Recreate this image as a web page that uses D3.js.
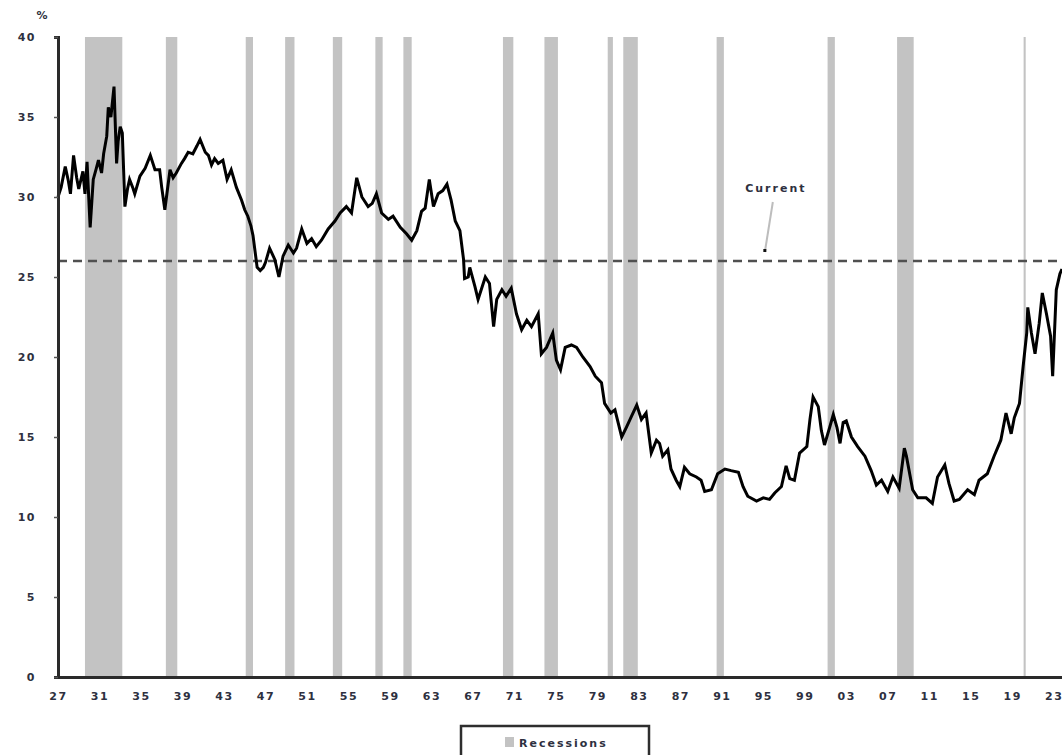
<!DOCTYPE html>
<html>
<head>
<meta charset="utf-8">
<script src="https://cdn.jsdelivr.net/npm/d3@7"></script>
<style>
  html, body { margin: 0; padding: 0; background: #fff; }
  svg { display: block; }
  text { font-family: "DejaVu Sans", Verdana, sans-serif; font-weight: bold; }
</style>
</head>
<body>
<svg id="chart" width="1062" height="755"></svg>
<script>
// ---- data ----
const years = [
  1927.0,1927.3,1927.7,1928.0,1928.2,1928.5,1928.8,1929.0,1929.4,1929.6,1929.8,
  1930.1,1930.4,1930.7,1930.9,1931.2,1931.4,1931.7,1931.85,1932.1,1932.4,1932.65,1932.8,
  1933.0,1933.2,1933.45,1933.7,1933.9,1934.2,1934.4,1934.9,1935.4,1935.9,1936.35,1936.8,
  1937.0,1937.3,1937.5,1937.8,1938.1,1938.4,1938.9,1939.2,1939.55,1940.0,1940.4,1940.7,
  1941.2,1941.5,1941.8,1942.1,1942.45,1942.9,1943.3,1943.7,1944.2,1944.7,1945.0,1945.3,
  1945.6,1945.8,1946.0,1946.2,1946.5,1946.8,1947.0,1947.4,1947.9,1948.3,1948.7,1949.2,
  1949.7,1950.0,1950.5,1951.0,1951.45,1951.9,1952.4,1953.05,1953.7,1954.2,1954.8,1955.3,
  1955.8,1956.3,1956.9,1957.3,1957.7,1958.2,1958.85,1959.3,1960.0,1960.6,1961.1,1961.6,
  1962.05,1962.4,1962.8,1963.2,1963.65,1964.1,1964.5,1964.9,1965.3,1965.75,1966.1,1966.2,
  1966.55,1966.7,1967.2,1967.5,1968.2,1968.6,1969.0,1969.3,1969.8,1970.2,1970.7,1971.2,
  1971.7,1972.2,1972.65,1973.3,1973.6,1974.1,1974.7,1975.05,1975.45,1975.9,1976.5,1977.0,
  1977.6,1978.3,1978.8,1979.4,1979.7,1980.3,1980.7,1981.35,1981.8,1982.3,1982.8,1983.25,
  1983.7,1984.2,1984.7,1985.0,1985.3,1985.8,1986.1,1986.6,1986.95,1987.4,1987.9,1988.55,
  1989.0,1989.35,1990.0,1990.6,1991.3,1991.9,1992.6,1993.05,1993.5,1994.35,1995.0,1995.6,
  1996.1,1996.75,1997.2,1997.55,1998.0,1998.5,1999.2,1999.5,1999.8,2000.3,2000.6,2000.9,
  2001.4,2001.75,2002.1,2002.4,2002.7,2003.0,2003.5,2004.1,2004.8,2005.4,2005.9,2006.4,
  2007.0,2007.5,2008.1,2008.6,2008.8,2009.4,2009.9,2010.7,2011.3,2011.8,2012.5,2012.9,
  2013.4,2013.9,2014.7,2015.35,2015.8,2016.6,2017.25,2017.9,2018.4,2018.9,2019.2,2019.7,
  2020.05,2020.4,2020.5,2020.85,2021.2,2021.6,2021.9,2022.3,2022.7,2022.9,2023.25,2023.6,2023.8
];
const values = [
  30.0,30.6,31.9,31.0,30.2,32.6,31.2,30.5,31.6,30.2,32.2,
  28.1,31.1,31.8,32.3,31.5,32.7,33.8,35.6,35.0,36.9,32.1,33.5,
  34.4,34.0,29.4,30.5,31.1,30.6,30.2,31.3,31.8,32.6,31.7,31.7,
  30.6,29.2,30.2,31.7,31.2,31.5,32.1,32.4,32.8,32.7,33.2,33.6,
  32.8,32.6,32.0,32.4,32.1,32.3,31.1,31.7,30.6,29.8,29.2,28.8,
  28.2,27.6,26.6,25.6,25.4,25.6,25.9,26.8,26.1,25.0,26.3,27.0,
  26.5,26.8,28.0,27.1,27.4,26.9,27.3,28.0,28.5,29.0,29.4,29.0,
  31.2,30.0,29.4,29.6,30.2,29.0,28.6,28.8,28.1,27.7,27.3,27.9,
  29.1,29.3,31.1,29.4,30.2,30.4,30.8,29.8,28.5,27.9,26.1,24.9,
  25.0,25.6,24.4,23.6,25.0,24.6,21.9,23.6,24.2,23.8,24.3,22.7,
  21.7,22.3,21.9,22.7,20.2,20.6,21.5,19.8,19.2,20.6,20.75,20.6,
  20.0,19.4,18.8,18.4,17.1,16.5,16.7,15.0,15.6,16.3,17.0,16.1,
  16.5,14.0,14.8,14.6,13.8,14.2,13.0,12.3,11.9,13.1,12.7,12.5,
  12.3,11.6,11.7,12.7,13.0,12.9,12.8,11.9,11.3,11.0,11.2,11.1,
  11.5,11.9,13.2,12.4,12.3,14.0,14.4,16.1,17.5,16.9,15.4,14.5,
  15.6,16.4,15.6,14.6,15.9,16.0,15.0,14.4,13.8,12.9,12.0,12.3,
  11.6,12.5,11.8,14.3,13.8,11.7,11.2,11.2,10.85,12.5,13.25,12.1,
  11.0,11.1,11.7,11.4,12.3,12.7,13.8,14.8,16.5,15.2,16.2,17.1,
  19.4,21.5,23.1,21.5,20.2,22.1,24.0,22.7,21.3,18.8,24.2,25.2,25.5
];
const recessionStart = [1929.6,1937.4,1945.1,1948.9,1953.5,1957.6,1960.3,1969.9,1973.9,1980.0,1981.5,1990.5,2001.2,2007.9,2020.1];
const recessionEnd   = [1933.2,1938.5,1945.8,1949.8,1954.4,1958.3,1961.1,1970.9,1975.2,1980.5,1982.9,1991.2,2001.9,2009.5,2020.3];
const xTickYears  = [1927,1931,1935,1939,1943,1947,1951,1955,1959,1963,1967,1971,1975,1979,1983,1987,1991,1995,1999,2003,2007,2011,2015,2019,2023];
const xTickLabels = ["27","31","35","39","43","47","51","55","59","63","67","71","75","79","83","87","91","95","99","03","07","11","15","19","23"];
const yTicks = [0,5,10,15,20,25,30,35,40];
const currentValue = 26.0;
const currentLabel = "Current";
const legendLabel = "Recessions";
const unitLabel = "%";

// ---- layout ----
const svg = d3.select("#chart");
const mLeft = 58, mRight = 1062, mTop = 37, mBottom = 677;
const x = d3.scaleLinear().domain([1927, 2023.8]).range([mLeft, mRight]);
const y = d3.scaleLinear().domain([0, 40]).range([mBottom, mTop]);
const textColor = "#2e3040";

// recession bands
svg.append("g").selectAll("rect")
  .data(recessionStart.map((s, i) => [s, recessionEnd[i]]))
  .join("rect")
  .attr("x", d => x(d[0]))
  .attr("width", d => Math.max(2, x(d[1]) - x(d[0])))
  .attr("y", y(40))
  .attr("height", y(0) - y(40))
  .attr("fill", "#c3c3c3");

// dashed current line
svg.append("line")
  .attr("x1", x(1927)).attr("x2", mRight)
  .attr("y1", y(currentValue)).attr("y2", y(currentValue))
  .attr("stroke", "#505050").attr("stroke-width", 2.5)
  .attr("stroke-dasharray", "9,6");

// series line
const pts = years.map((t, i) => [t, values[i]]);
svg.append("path")
  .datum(pts)
  .attr("fill", "none")
  .attr("stroke", "#000")
  .attr("stroke-width", 3)
  .attr("stroke-linejoin", "miter")
  .attr("d", d3.line().x(d => x(d[0])).y(d => y(d[1])));

// y axis
const yAxis = svg.append("g")
  .attr("transform", `translate(${mLeft},0)`)
  .call(d3.axisLeft(y).tickValues(yTicks).tickSize(4).tickPadding(18).tickFormat(d3.format("d")));
yAxis.select(".domain").attr("stroke", "#2a2a2a").attr("stroke-width", 3);
yAxis.selectAll(".tick line").attr("stroke", "#555").attr("stroke-width", 1.5);
yAxis.selectAll("text").attr("fill", textColor).style("font-size", "11px").style("letter-spacing", "1.5px")
  .style("font-family", "'DejaVu Sans', sans-serif").style("font-weight", "bold");

// x axis
const xAxis = svg.append("g")
  .attr("transform", `translate(0,${mBottom})`)
  .call(d3.axisBottom(x).tickValues(xTickYears).tickSize(0).tickPadding(15)
    .tickFormat((d, i) => xTickLabels[i]));
xAxis.select(".domain").attr("stroke", "#2a2a2a").attr("stroke-width", 3);
xAxis.selectAll("text").attr("fill", textColor).style("font-size", "11px").style("letter-spacing", "1.5px")
  .style("font-family", "'DejaVu Sans', sans-serif").style("font-weight", "bold");

// unit label
svg.append("text").attr("x", 42).attr("y", 19).attr("text-anchor", "middle")
  .attr("fill", textColor).style("font-size", "11px").text(unitLabel);

// current annotation
const cx = x(1995.15), cy = y(currentValue);
svg.append("line")
  .attr("x1", cx + 8).attr("y1", 202)
  .attr("x2", cx).attr("y2", cy - 9)
  .attr("stroke", "#bdbdbd").attr("stroke-width", 2);
svg.append("rect").attr("x", cx - 1.5).attr("y", cy - 12).attr("width", 3).attr("height", 3).attr("fill", "#111");
svg.append("text").attr("x", cx + 11).attr("y", 192).attr("text-anchor", "middle")
  .attr("fill", textColor).style("font-size", "11px").style("letter-spacing", "2px").text(currentLabel);

// legend
const lg = svg.append("g");
lg.append("rect").attr("x", 461).attr("y", 726).attr("width", 188).attr("height", 40)
  .attr("fill", "#fff").attr("stroke", "#2e2e2e").attr("stroke-width", 2.5);
lg.append("rect").attr("x", 505).attr("y", 737).attr("width", 9).attr("height", 10).attr("fill", "#c3c3c3");
lg.append("text").attr("x", 519).attr("y", 746.5).attr("fill", textColor)
  .style("font-size", "11px").style("letter-spacing", "2px").text(legendLabel);
</script>
</body>
</html>
